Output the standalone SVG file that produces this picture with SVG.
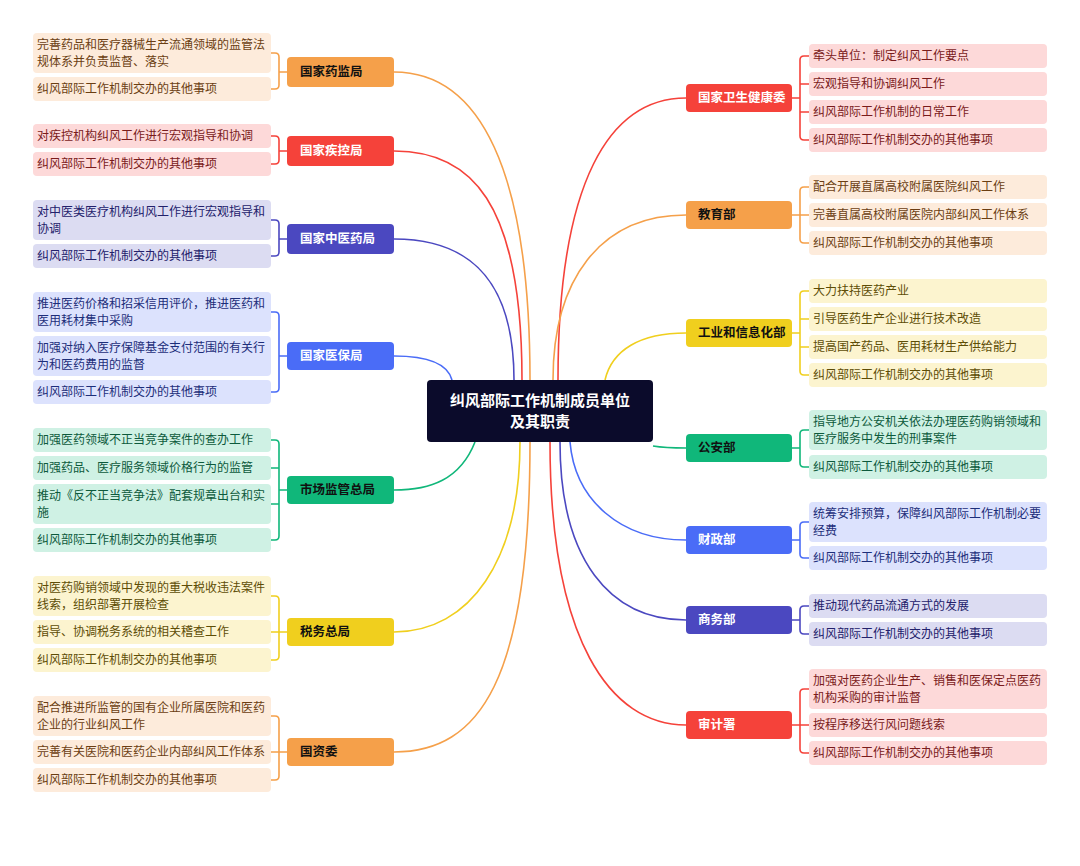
<svg xmlns="http://www.w3.org/2000/svg" width="1080" height="866" viewBox="0 0 1080 866">
<style>
text{font-family:"Noto Sans CJK SC","Noto Sans",sans-serif;font-size:12px}
.n{font-weight:bold;font-size:12.5px}
.w{fill:#fff}.k{fill:#111}
.c{fill:none;stroke-width:1.6}
.o{stroke:#F5A04A}.r{stroke:#F5423A}.p{stroke:#4B48C0}.b{stroke:#4A6CF7}.g{stroke:#10B77A}.y{stroke:#F0CF1E}
.fo{fill:#FDEBDB}.fr{fill:#FDD9D9}.fp{fill:#DCDCF2}.fb{fill:#DCE2FD}.fg{fill:#CFF1E4}.fy{fill:#FCF4CF}
.to{fill:#6B3E12}.tr{fill:#7A1B1B}.tp{fill:#23216B}.tb{fill:#1D2E7A}.tg{fill:#0D5A3C}.ty{fill:#5E4D06}
</style>
<rect width="1080" height="866" fill="#fff"/>
<g id="connectors">
<path class="c o" d="M530 380 C530 170 480 72 394 72"/>
<path class="c r" d="M522 380 C522 200 470 151 394 151"/>
<path class="c p" d="M514 380 C514 270 460 239 394 239"/>
<path class="c b" d="M452 380 C448 365 430 356 394 356"/>
<path class="c g" d="M475 442 C460 480 430 490 394 490"/>
<path class="c y" d="M520 442 C520 560 470 632 394 632"/>
<path class="c o" d="M530 442 C530 680 480 752 394 752"/>
<path class="c r" d="M558 380 C558 180 610 98 686 98"/>
<path class="c o" d="M553 380 C553 280 600 215 686 215"/>
<path class="c y" d="M605 380 C612 350 640 333 686 333"/>
<path class="c g" d="M653 446 C665 448 675 448 686 448"/>
<path class="c b" d="M570 442 C575 500 620 540 686 540"/>
<path class="c p" d="M560 442 C560 560 610 620 686 620"/>
<path class="c r" d="M550 442 C550 640 610 725 686 725"/>
<!-- left brackets -->
<path class="c o" d="M287 72 H279 M271 53 H275 Q279 53 279 57 V85 Q279 89 275 89 H271"/>
<path class="c r" d="M287 151 H279 M271 136 H275 Q279 136 279 140 V160 Q279 164 275 164 H271"/>
<path class="c p" d="M287 239 H279 M271 220 H275 Q279 220 279 224 V252 Q279 256 275 256 H271"/>
<path class="c b" d="M287 356 H279 M271 312 H275 Q279 312 279 316 V388 Q279 392 275 392 H271"/>
<path class="c g" d="M287 490 H279 M271 440 H275 Q279 440 279 444 V536 Q279 540 275 540 H271 M271 468 H279 M271 504 H279"/>
<path class="c y" d="M287 632 H279 M271 596 H275 Q279 596 279 600 V656 Q279 660 275 660 H271 M271 632 H279"/>
<path class="c o" d="M287 752 H279 M271 716 H275 Q279 716 279 720 V776 Q279 780 275 780 H271 M271 752 H279"/>
<!-- right brackets -->
<path class="c r" d="M792 98 H800 M809 56 H804 Q800 56 800 60 V136 Q800 140 804 140 H809 M800 84 H809 M800 112 H809"/>
<path class="c o" d="M792 215 H800 M809 187 H804 Q800 187 800 191 V239 Q800 243 804 243 H809 M800 215 H809"/>
<path class="c y" d="M792 333 H800 M809 291 H804 Q800 291 800 295 V371 Q800 375 804 375 H809 M800 319 H809 M800 347 H809"/>
<path class="c g" d="M792 448 H800 M809 430 H804 Q800 430 800 434 V463 Q800 467 804 467 H809"/>
<path class="c b" d="M792 540 H800 M809 522 H804 Q800 522 800 526 V554 Q800 558 804 558 H809"/>
<path class="c p" d="M792 620 H800 M809 606 H804 Q800 606 800 610 V630 Q800 634 804 634 H809"/>
<path class="c r" d="M792 725 H800 M809 689 H804 Q800 689 800 693 V749 Q800 753 804 753 H809 M800 725 H809"/>
</g>
<g id="center"><rect x="427" y="380" width="226" height="62" rx="4" fill="#0B0B2B"/>
<text x="540" y="406" text-anchor="middle" class="n w" style="font-size:15px">纠风部际工作机制成员单位</text>
<text x="540" y="427" text-anchor="middle" class="n w" style="font-size:15px">及其职责</text></g>

<g id="n1"><rect x="287" y="57" width="107" height="30" rx="4" fill="#F5A04A"/><text x="300" y="76" class="n k">国家药监局</text></g>
<g id="n1l"><rect x="33" y="33" width="238" height="40" rx="4" class="fo"/><text x="37" y="49" class="to">完善药品和医疗器械生产流通领域的监管法</text><text x="37" y="66" class="to">规体系并负责监督、落实</text>
<rect x="33" y="77" width="238" height="24" rx="4" class="fo"/><text x="37" y="93" class="to">纠风部际工作机制交办的其他事项</text></g>

<g id="n2"><rect x="287" y="136" width="107" height="30" rx="4" fill="#F5423A"/><text x="300" y="155" class="n w">国家疾控局</text></g>
<g id="n2l"><rect x="33" y="124" width="238" height="24" rx="4" class="fr"/><text x="37" y="140" class="tr">对疾控机构纠风工作进行宏观指导和协调</text>
<rect x="33" y="152" width="238" height="24" rx="4" class="fr"/><text x="37" y="168" class="tr">纠风部际工作机制交办的其他事项</text></g>

<g id="n3"><rect x="287" y="224" width="107" height="30" rx="4" fill="#4B48C0"/><text x="300" y="243" class="n w">国家中医药局</text></g>
<g id="n3l"><rect x="33" y="200" width="238" height="40" rx="4" class="fp"/><text x="37" y="216" class="tp">对中医类医疗机构纠风工作进行宏观指导和</text><text x="37" y="233" class="tp">协调</text>
<rect x="33" y="244" width="238" height="24" rx="4" class="fp"/><text x="37" y="260" class="tp">纠风部际工作机制交办的其他事项</text></g>

<g id="n4"><rect x="287" y="342" width="107" height="28" rx="4" fill="#4A6CF7"/><text x="300" y="360" class="n w">国家医保局</text></g>
<g id="n4l"><rect x="33" y="292" width="238" height="40" rx="4" class="fb"/><text x="37" y="308" class="tb">推进医药价格和招采信用评价，推进医药和</text><text x="37" y="325" class="tb">医用耗材集中采购</text>
<rect x="33" y="336" width="238" height="40" rx="4" class="fb"/><text x="37" y="352" class="tb">加强对纳入医疗保障基金支付范围的有关行</text><text x="37" y="369" class="tb">为和医药费用的监督</text>
<rect x="33" y="380" width="238" height="24" rx="4" class="fb"/><text x="37" y="396" class="tb">纠风部际工作机制交办的其他事项</text></g>

<g id="n5"><rect x="287" y="476" width="107" height="28" rx="4" fill="#10B77A"/><text x="300" y="494" class="n k">市场监管总局</text></g>
<g id="n5l"><rect x="33" y="428" width="238" height="24" rx="4" class="fg"/><text x="37" y="444" class="tg">加强医药领域不正当竞争案件的查办工作</text>
<rect x="33" y="456" width="238" height="24" rx="4" class="fg"/><text x="37" y="472" class="tg">加强药品、医疗服务领域价格行为的监管</text>
<rect x="33" y="484" width="238" height="40" rx="4" class="fg"/><text x="37" y="500" class="tg">推动《反不正当竞争法》配套规章出台和实</text><text x="37" y="517" class="tg">施</text>
<rect x="33" y="528" width="238" height="24" rx="4" class="fg"/><text x="37" y="544" class="tg">纠风部际工作机制交办的其他事项</text></g>

<g id="n6"><rect x="287" y="618" width="107" height="28" rx="4" fill="#F0CF1E"/><text x="300" y="636" class="n k">税务总局</text></g>
<g id="n6l"><rect x="33" y="576" width="238" height="40" rx="4" class="fy"/><text x="37" y="592" class="ty">对医药购销领域中发现的重大税收违法案件</text><text x="37" y="609" class="ty">线索，组织部署开展检查</text>
<rect x="33" y="620" width="238" height="24" rx="4" class="fy"/><text x="37" y="636" class="ty">指导、协调税务系统的相关稽查工作</text>
<rect x="33" y="648" width="238" height="24" rx="4" class="fy"/><text x="37" y="664" class="ty">纠风部际工作机制交办的其他事项</text></g>

<g id="n7"><rect x="287" y="738" width="107" height="28" rx="4" fill="#F5A04A"/><text x="300" y="756" class="n k">国资委</text></g>
<g id="n7l"><rect x="33" y="696" width="238" height="40" rx="4" class="fo"/><text x="37" y="712" class="to">配合推进所监管的国有企业所属医院和医药</text><text x="37" y="729" class="to">企业的行业纠风工作</text>
<rect x="33" y="740" width="238" height="24" rx="4" class="fo"/><text x="37" y="756" class="to">完善有关医院和医药企业内部纠风工作体系</text>
<rect x="33" y="768" width="238" height="24" rx="4" class="fo"/><text x="37" y="784" class="to">纠风部际工作机制交办的其他事项</text></g>

<g id="m1"><rect x="686" y="84" width="106" height="28" rx="4" fill="#F5423A"/><text x="698" y="102" class="n w">国家卫生健康委</text></g>
<g id="m1l"><rect x="809" y="44" width="238" height="24" rx="4" class="fr"/><text x="813" y="60" class="tr">牵头单位：制定纠风工作要点</text>
<rect x="809" y="72" width="238" height="24" rx="4" class="fr"/><text x="813" y="88" class="tr">宏观指导和协调纠风工作</text>
<rect x="809" y="100" width="238" height="24" rx="4" class="fr"/><text x="813" y="116" class="tr">纠风部际工作机制的日常工作</text>
<rect x="809" y="128" width="238" height="24" rx="4" class="fr"/><text x="813" y="144" class="tr">纠风部际工作机制交办的其他事项</text></g>

<g id="m2"><rect x="686" y="201" width="106" height="28" rx="4" fill="#F5A04A"/><text x="698" y="219" class="n k">教育部</text></g>
<g id="m2l"><rect x="809" y="175" width="238" height="24" rx="4" class="fo"/><text x="813" y="191" class="to">配合开展直属高校附属医院纠风工作</text>
<rect x="809" y="203" width="238" height="24" rx="4" class="fo"/><text x="813" y="219" class="to">完善直属高校附属医院内部纠风工作体系</text>
<rect x="809" y="231" width="238" height="24" rx="4" class="fo"/><text x="813" y="247" class="to">纠风部际工作机制交办的其他事项</text></g>

<g id="m3"><rect x="686" y="319" width="106" height="28" rx="4" fill="#F0CF1E"/><text x="698" y="337" class="n k">工业和信息化部</text></g>
<g id="m3l"><rect x="809" y="279" width="238" height="24" rx="4" class="fy"/><text x="813" y="295" class="ty">大力扶持医药产业</text>
<rect x="809" y="307" width="238" height="24" rx="4" class="fy"/><text x="813" y="323" class="ty">引导医药生产企业进行技术改造</text>
<rect x="809" y="335" width="238" height="24" rx="4" class="fy"/><text x="813" y="351" class="ty">提高国产药品、医用耗材生产供给能力</text>
<rect x="809" y="363" width="238" height="24" rx="4" class="fy"/><text x="813" y="379" class="ty">纠风部际工作机制交办的其他事项</text></g>

<g id="m4"><rect x="686" y="434" width="106" height="28" rx="4" fill="#10B77A"/><text x="698" y="452" class="n k">公安部</text></g>
<g id="m4l"><rect x="809" y="410" width="238" height="40" rx="4" class="fg"/><text x="813" y="426" class="tg">指导地方公安机关依法办理医药购销领域和</text><text x="813" y="443" class="tg">医疗服务中发生的刑事案件</text>
<rect x="809" y="455" width="238" height="24" rx="4" class="fg"/><text x="813" y="471" class="tg">纠风部际工作机制交办的其他事项</text></g>

<g id="m5"><rect x="686" y="526" width="106" height="28" rx="4" fill="#4A6CF7"/><text x="698" y="544" class="n w">财政部</text></g>
<g id="m5l"><rect x="809" y="502" width="238" height="40" rx="4" class="fb"/><text x="813" y="518" class="tb">统筹安排预算，保障纠风部际工作机制必要</text><text x="813" y="535" class="tb">经费</text>
<rect x="809" y="546" width="238" height="24" rx="4" class="fb"/><text x="813" y="562" class="tb">纠风部际工作机制交办的其他事项</text></g>

<g id="m6"><rect x="686" y="606" width="106" height="28" rx="4" fill="#4B48C0"/><text x="698" y="624" class="n w">商务部</text></g>
<g id="m6l"><rect x="809" y="594" width="238" height="24" rx="4" class="fp"/><text x="813" y="610" class="tp">推动现代药品流通方式的发展</text>
<rect x="809" y="622" width="238" height="24" rx="4" class="fp"/><text x="813" y="638" class="tp">纠风部际工作机制交办的其他事项</text></g>

<g id="m7"><rect x="686" y="711" width="106" height="28" rx="4" fill="#F5423A"/><text x="698" y="729" class="n w">审计署</text></g>
<g id="m7l"><rect x="809" y="669" width="238" height="40" rx="4" class="fr"/><text x="813" y="685" class="tr">加强对医药企业生产、销售和医保定点医药</text><text x="813" y="702" class="tr">机构采购的审计监督</text>
<rect x="809" y="713" width="238" height="24" rx="4" class="fr"/><text x="813" y="729" class="tr">按程序移送行风问题线索</text>
<rect x="809" y="741" width="238" height="24" rx="4" class="fr"/><text x="813" y="757" class="tr">纠风部际工作机制交办的其他事项</text></g>
</svg>
